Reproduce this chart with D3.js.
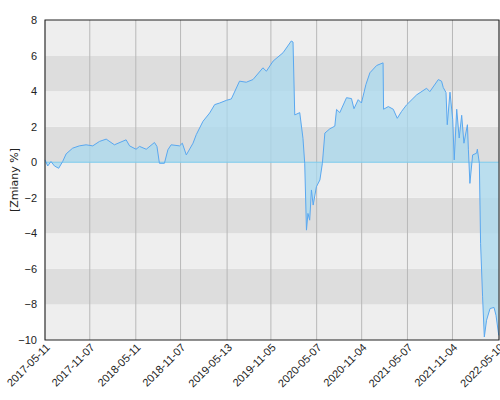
<!DOCTYPE html>
<html><head><meta charset="utf-8">
<script src="https://cdn.jsdelivr.net/npm/d3@7"></script>
<style>body{margin:0;background:#fff}svg{font-family:"DejaVu Sans",sans-serif}</style>
</head><body><svg id="c" width="500" height="400"></svg>
<script>
// days since start date, and % change
const startDate = "2017-05-11";
const dayOffsets = [0,11,24,38,55,71,85,111,138,165,192,219,246,279,326,340,366,380,407,440,450,460,480,494,507,541,552,568,595,608,635,662,682,702,729,749,782,809,836,876,890,917,957,990,997,1004,1024,1037,1044,1051,1057,1064,1071,1078,1091,1105,1115,1125,1145,1165,1172,1185,1212,1232,1242,1259,1272,1290,1306,1333,1359,1361,1380,1400,1416,1433,1453,1494,1534,1547,1581,1594,1601,1612,1617,1628,1639,1645,1655,1665,1675,1684,1698,1702,1708,1719,1735,1738,1746,1751,1759,1766,1775,1789,1805,1813,1824];
const values = [0.13,-0.21,0.04,-0.21,-0.34,0.04,0.47,0.79,0.92,0.98,0.92,1.17,1.30,0.98,1.26,0.92,0.73,0.89,0.73,1.11,0.89,-0.06,-0.06,0.70,0.98,0.92,1.07,0.41,1.07,1.55,2.30,2.77,3.24,3.33,3.48,3.56,4.56,4.50,4.65,5.31,5.12,5.69,6.16,6.82,6.76,2.66,2.79,1.34,-0.06,-3.82,-2.88,-3.26,-1.56,-2.41,-1.38,-1.00,-0.06,1.64,1.88,2.03,2.97,2.79,3.63,3.58,3.01,3.52,3.33,4.37,5.03,5.44,5.59,2.98,3.13,2.98,2.47,2.85,3.22,3.79,4.16,3.97,4.65,4.56,4.20,3.92,2.11,3.94,2.39,0.13,2.98,1.36,2.64,1.07,2.11,0.70,-1.19,0.41,0.51,0.73,-0.06,-4.56,-7.57,-9.83,-8.89,-8.23,-8.17,-8.61,-9.74];
const tickLabels = ["2017-05-11","2017-11-07","2018-05-11","2018-11-07","2019-05-13","2019-11-05","2020-05-07","2020-11-04","2021-05-07","2021-11-04","2022-05-10"];
const yTicks = [-10,-8,-6,-4,-2,0,2,4,6,8];

const parse = d3.timeParse("%Y-%m-%d");
const t0 = parse(startDate);
const data = dayOffsets.map((d, i) => ({ date: d3.timeDay.offset(t0, d), v: values[i] }));

const margin = { top: 20, right: 1, bottom: 60, left: 45 };
const width = 500 - margin.left - margin.right;
const height = 400 - margin.top - margin.bottom;

const svg = d3.select("#c").append("g").attr("transform", `translate(${margin.left},${margin.top})`);

const x = d3.scaleTime().domain([t0, parse("2022-05-10")]).range([0, width]);
const y = d3.scaleLinear().domain([-10, 8]).range([height, 0]);

// alternating bands
svg.selectAll(".band").data(yTicks.slice(0, -1)).enter().append("rect")
    .attr("x", 0).attr("width", width)
    .attr("y", d => y(d + 2)).attr("height", d => y(d) - y(d + 2))
    .attr("fill", d => ((d + 10) / 2) % 2 === 1 ? "#dddddd" : "#eeeeee");

// vertical grid
svg.selectAll(".vg").data(tickLabels.map(parse)).enter().append("line")
    .attr("x1", d => x(d)).attr("x2", d => x(d)).attr("y1", 0).attr("y2", height)
    .attr("stroke", "#b8b8b8");

svg.append("path").datum(data)
    .attr("d", d3.area().x(d => x(d.date)).y0(y(0)).y1(d => y(d.v)))
    .attr("fill", "#a8d8ee").attr("fill-opacity", 0.75);

svg.append("line").attr("x1", 0).attr("x2", width).attr("y1", y(0)).attr("y2", y(0))
    .attr("stroke", "#7ccbee");

svg.append("path").datum(data)
    .attr("d", d3.line().x(d => x(d.date)).y(d => y(d.v)))
    .attr("fill", "none").attr("stroke", "#5aa8f0").attr("stroke-width", 1);

svg.append("rect").attr("width", width).attr("height", height)
    .attr("fill", "none").attr("stroke", "#222");

// y axis
const ya = svg.append("g").call(d3.axisLeft(y).tickValues(yTicks).tickSize(0).tickPadding(8));
ya.select(".domain").remove();
ya.selectAll("text").attr("font-size", 11).attr("fill", "#222");

// x axis
const xa = svg.append("g").attr("transform", `translate(0,${height})`)
    .call(d3.axisBottom(x).tickValues(tickLabels.map(parse)).tickFormat(d3.timeFormat("%Y-%m-%d")).tickSize(0));
xa.select(".domain").remove();
xa.selectAll("text").attr("font-size", 11).attr("fill", "#222")
    .attr("text-anchor", "end").attr("dy", 0)
    .attr("transform", "translate(3,6) rotate(-45)");

svg.append("text").attr("transform", `translate(-27,${height / 2}) rotate(-90)`)
    .attr("text-anchor", "middle").attr("font-size", 11).attr("fill", "#222").text("[Zmiany %]");
</script></body></html>
